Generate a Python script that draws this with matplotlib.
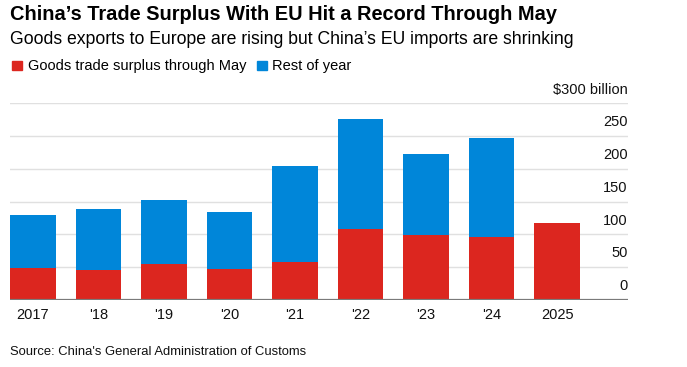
import matplotlib.pyplot as plt
import numpy as np

# Bloomberg-style stacked bars: China's goods trade surplus with the EU ($bn)
years = ["2017", "'18", "'19", "'20", "'21", "'22", "'23", "'24", "2025"]
through_may = [48.3, 46.2, 54.4, 46.8, 57.9, 108.7, 99.0, 95.6, 117.4]
full_year = [129.6, 138.7, 152.0, 133.7, 203.8, 276.4, 222.0, 247.0, None]
rest_of_year = [t - m if t is not None else 0 for t, m in zip(full_year, through_may)]

yticks = [0, 50, 100, 150, 200, 250, 300]
ytick_labels = ["0", "50", "100", "150", "200", "250", "$300 billion"]

RED = "#dc261f"
BLUE = "#0086d9"

plt.rcParams['font.family'] = ['Liberation Sans', 'DejaVu Sans']

fig = plt.figure(figsize=(6.87, 3.67), dpi=100)
W, H = 687, 367
ax = fig.add_axes([10 / W, (H - 300) / H, (627.7 - 10) / W, (300 - 103.3) / H])

x = np.arange(len(years))
width = 0.695
ax.bar(x, through_may, width, color=RED, zorder=3)
ax.bar(x, rest_of_year, width, bottom=through_may, color=BLUE, zorder=3)

ax.set_xlim(-0.3475, 9.075)
ax.set_ylim(0, 300)

for s in ax.spines.values():
    s.set_visible(False)
ax.set_yticks([])
ax.set_xticks(x)
ax.set_xticklabels(years, fontsize=10.5, color="#111111")
ax.tick_params(axis="x", length=0, pad=6)

# gridlines with labels sitting above them on the right
for v, lab in zip(yticks, ytick_labels):
    if v == 0:
        ax.axhline(v, color="#7a7a7a", lw=1.6, zorder=4)
    else:
        ax.axhline(v, color="#e0e0e0", lw=1.0, zorder=1)
    ax.text(1.0, v + 21, lab, transform=ax.get_yaxis_transform(), ha="right",
            va="center", fontsize=10.5, color="#111111", clip_on=False)

fig.text(10 / W, 1 - 14 / H, "China\u2019s Trade Surplus With EU Hit a Record Through May",
         fontsize=14.4, fontweight="bold", ha="left", va="center", color="#000000")
fig.text(10 / W, 1 - 40 / H, "Goods exports to Europe are rising but China\u2019s EU imports are shrinking",
         fontsize=12.7, ha="left", va="center", color="#000000")

# legend
fig.patches.append(plt.Rectangle((12 / W, 1 - 70 / H), 9.5 / W, 9.5 / H,
                                 transform=fig.transFigure, color=RED))
fig.text(27.5 / W, 1 - 66 / H, "Goods trade surplus through May",
         fontsize=10.5, ha="left", va="center")
fig.patches.append(plt.Rectangle((257 / W, 1 - 70 / H), 9.5 / W, 9.5 / H,
                                 transform=fig.transFigure, color=BLUE))
fig.text(271.5 / W, 1 - 66 / H, "Rest of year", fontsize=10.5, ha="left", va="center")

fig.text(10 / W, 1 - 352 / H, "Source: China's General Administration of Customs",
         fontsize=9.35, ha="left", va="center", color="#111111")

fig.savefig("out.png", dpi=100)
